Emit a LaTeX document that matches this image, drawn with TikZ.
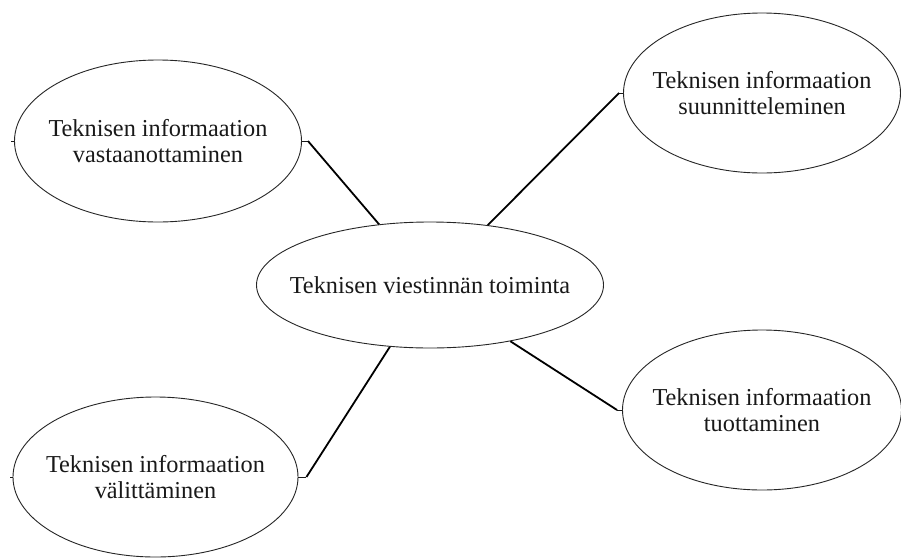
\documentclass[tikz,border=0pt]{standalone}
\usepackage{fontspec}
\setmainfont{Liberation Serif}
\usetikzlibrary{shapes.geometric}

\tikzset{
  bubble/.style={ellipse, draw=black!85, line width=0.9pt, inner sep=0pt},
  caption/.style={text=black!90, align=center, inner sep=0pt,
    font=\fontsize{24.3}{26.5}\selectfont},
  stub/.style={draw=black!90, line width=0.9pt},
  link/.style={draw=black, line width=1.8pt}
}

\begin{document}
\begin{tikzpicture}[x=1pt, y=-1pt]
  \clip (0,0) rectangle (901,557);
  \fill[white] (0,0) rectangle (901,557);

  % central activity
  \node[bubble, minimum width=347pt, minimum height=126pt] (c) at (430,285) {};
  \node[caption] (ct) at (c.center) {Teknisen viestinnän toiminta};

  % four sub-activities
  \node[bubble, minimum width=287pt, minimum height=162pt] (tl) at (158,141) {};
  \node[caption] (tlt) at (tl.center) {Teknisen informaation\\vastaanottaminen};

  \node[bubble, minimum width=277pt, minimum height=160pt] (tr) at (762,93) {};
  \node[caption] (trt) at (tr.center) {Teknisen informaation\\suunnitteleminen};

  \node[bubble, minimum width=279pt, minimum height=160pt] (br) at (762,410) {};
  \node[caption] (brt) at (br.center) {Teknisen informaation\\tuottaminen};

  \node[bubble, minimum width=285pt, minimum height=160pt] (bl) at (155.5,477) {};
  \node[caption] (blt) at (bl.center) {Teknisen informaation\\välittäminen};

  % stub ends beside the bubbles
  \coordinate (tlL) at ([xshift=-3pt]tl.west);
  \coordinate (tlR) at ([xshift=6pt]tl.east);
  \coordinate (trL) at ([xshift=-4pt]tr.west);
  \coordinate (brL) at ([xshift=-5pt]br.west);
  \coordinate (blL) at ([xshift=-3pt]bl.west);
  \coordinate (blR) at ([xshift=8pt]bl.east);

  \draw[stub] (tl.west) -- (tlL);
  \draw[stub] (bl.west) -- (blL);
  \draw[stub] (tl.east) -- (tlR);
  \draw[stub] (tr.west) -- (trL);
  \draw[stub] (br.west) -- (brL);
  \draw[stub] (bl.east) -- (blR);

  % connectors to the central activity
  \draw[link] (tlR) -- (c.130.4);
  \draw[link] (trL) -- (c.46);
  \draw[link] (blR) -- (c.237.6);
  \draw[link] (brL) -- (c.325.7);
\end{tikzpicture}
\end{document}
